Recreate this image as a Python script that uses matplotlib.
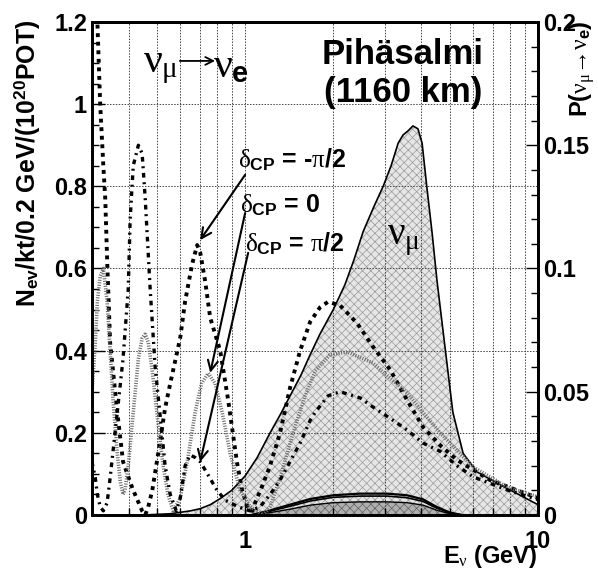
import matplotlib
matplotlib.use('Agg')
import matplotlib.pyplot as plt
from matplotlib.ticker import FixedLocator, NullFormatter, MultipleLocator, FormatStrFormatter

plt.rcParams['font.family'] = ['Liberation Sans', 'DejaVu Sans']
plt.rcParams['font.weight'] = 'bold'
plt.rcParams['mathtext.fontset'] = 'custom'
plt.rcParams['mathtext.rm'] = 'Liberation Sans:bold'
plt.rcParams['mathtext.bf'] = 'Liberation Sans:bold'
plt.rcParams['mathtext.sf'] = 'Liberation Sans:bold'
plt.rcParams['mathtext.it'] = 'Liberation Serif:weight=normal'
plt.rcParams['mathtext.fallback'] = 'stix'
plt.rcParams['hatch.linewidth'] = 0.5

# nu_mu flux (arbitrary units on left scale)
E_flux = [0.45, 0.555, 0.65, 0.70, 0.76, 0.822, 0.9, 1.0, 1.1, 1.217, 1.32, 1.424, 1.55,
          1.667, 1.8, 2.0, 2.19, 2.35, 2.53, 2.75, 2.96, 3.15, 3.33, 3.46, 3.6, 3.74,
          3.89, 4.02, 4.17, 4.35, 4.52, 4.81, 5.12, 5.55, 6.19, 7.6, 10.0]
flux = [0.0, 0.003, 0.01, 0.015, 0.025, 0.04, 0.06, 0.095, 0.14, 0.2, 0.245, 0.29, 0.34,
        0.39, 0.44, 0.50, 0.56, 0.62, 0.69, 0.75, 0.80, 0.85, 0.905, 0.925, 0.935, 0.947,
        0.94, 0.905, 0.80, 0.686, 0.57, 0.41, 0.25, 0.15, 0.105, 0.07, 0.025]

# nu_e appearance probability curves, drawn on left scale (x6)
E_m = [0.310, 0.313, 0.320, 0.328, 0.333, 0.338, 0.346, 0.366, 0.383, 0.405, 0.415, 0.445,
       0.456, 0.467, 0.482, 0.505, 0.533, 0.555, 0.600, 0.624, 0.659, 0.686, 0.702, 0.730,
       0.760, 0.822, 0.875, 0.939, 0.977, 1.024, 1.06, 1.082, 1.143, 1.217, 1.316, 1.424,
       1.541, 1.667, 1.80, 1.92, 2.11, 2.41, 2.73, 3.13, 3.57, 4.05, 4.63, 5.29, 6.86, 10.0]
p_minus = [1.30, 1.20, 1.00, 0.85, 0.77, 0.62, 0.42, 0.25, 0.13, 0.08, 0.06, 0.01,
           0.0, 0.02, 0.06, 0.15, 0.26, 0.32, 0.43, 0.52, 0.61, 0.657, 0.64, 0.57,
           0.48, 0.40, 0.28, 0.126, 0.06, 0.015, 0.01, 0.03, 0.07, 0.12, 0.20, 0.31,
           0.40, 0.47, 0.505, 0.519, 0.51, 0.467, 0.41, 0.353, 0.28, 0.214, 0.17, 0.134, 0.085, 0.041]

E_0 = [0.300, 0.308, 0.313, 0.320, 0.328, 0.338, 0.346, 0.354, 0.366, 0.375, 0.383, 0.389,
       0.399, 0.415, 0.432, 0.445, 0.456, 0.467, 0.482, 0.505, 0.525, 0.545, 0.568, 0.60,
       0.638, 0.675, 0.71, 0.748, 0.79, 0.835, 0.889, 0.961, 1.04, 1.152, 1.217, 1.316,
       1.458, 1.602, 1.734, 1.95, 2.23, 2.73, 3.57, 4.63, 6.0, 7.84, 10.0]
p_zero = [0.30, 0.42, 0.52, 0.58, 0.60, 0.52, 0.40, 0.28, 0.15, 0.08, 0.05, 0.06,
          0.12, 0.25, 0.38, 0.43, 0.44, 0.42, 0.35, 0.22, 0.12, 0.05, 0.01, 0.04,
          0.14, 0.25, 0.32, 0.345, 0.32, 0.25, 0.15, 0.06, 0.02, 0.0, 0.02, 0.09,
          0.20, 0.29, 0.35, 0.39, 0.397, 0.37, 0.297, 0.20, 0.117, 0.068, 0.044]

E_p = [0.300, 0.308, 0.313, 0.320, 0.328, 0.338, 0.346, 0.366, 0.383, 0.399, 0.405, 0.415,
       0.432, 0.445, 0.456, 0.474, 0.493, 0.513, 0.533, 0.555, 0.582, 0.600, 0.624, 0.649,
       0.675, 0.702, 0.748, 0.802, 0.855, 0.946, 1.04, 1.125, 1.217, 1.316, 1.424, 1.541,
       1.667, 1.734, 1.92, 2.11, 2.47, 2.73, 3.13, 3.57, 4.05, 4.63, 5.29, 6.0, 7.84, 10.0]
p_plus = [0.13, 0.09, 0.05, 0.02, 0.01, 0.03, 0.09, 0.25, 0.38, 0.55, 0.72, 0.85,
          0.90, 0.88, 0.77, 0.55, 0.36, 0.24, 0.12, 0.05, 0.01, 0.04, 0.12, 0.146,
          0.14, 0.13, 0.097, 0.06, 0.036, 0.02, 0.01, 0.02, 0.05, 0.085, 0.13, 0.175,
          0.23, 0.25, 0.29, 0.30, 0.285, 0.263, 0.235, 0.207, 0.175, 0.155, 0.12, 0.093, 0.061, 0.037]

# nu_e event spectra
E_sig = [1.05, 1.2, 1.42, 1.67, 2.0, 2.47, 3.05, 3.57, 4.05, 4.5, 5.0, 5.5]
sig_top = [0.0, 0.010, 0.025, 0.039, 0.048, 0.052, 0.052, 0.048, 0.038, 0.02, 0.006, 0.0]
sig_mid = [0.0, 0.008, 0.021, 0.034, 0.043, 0.046, 0.046, 0.042, 0.033, 0.017, 0.005, 0.0]
sig_low = [0.0, 0.005, 0.014, 0.024, 0.030, 0.032, 0.032, 0.030, 0.024, 0.012, 0.003, 0.0]

fig = plt.figure(figsize=(5.98, 5.71), dpi=100)
ax = fig.add_axes([0.1538, 0.0981, 0.7459, 0.8634])
ax.set_xscale('log')
ax.set_xlim(0.3, 10)
ax.set_ylim(0, 1.2)

ax.fill_between(E_flux, flux, facecolor='#e6e6e6', edgecolor='#9a9a9a', hatch='xxxx',
                linewidth=0, zorder=1)
ax.plot(E_flux, flux, color='black', lw=1.2, zorder=4)

ax.fill_between(E_sig, sig_low, facecolor='#b0b0b0', edgecolor='#606060', hatch='xxxx',
                linewidth=0, zorder=1.5)
ax.plot(E_sig, sig_low, color='black', lw=1.0, zorder=4)
ax.plot(E_sig, sig_mid, color='black', lw=1.2, zorder=4)
ax.plot(E_sig, sig_top, color='black', lw=1.6, zorder=4)

ax.plot(E_m, p_minus, color='black', lw=2.8, dashes=(1, 1.2), dash_capstyle='butt', zorder=5)
ax.plot(E_0, p_zero, color='#6e6e6e', lw=2.6, dashes=(0.3, 0.4), dash_capstyle='butt', zorder=5)
ax.plot(E_p, p_plus, color='black', lw=2.4, dashes=(1.4, 1.4, 0.6, 1.4), dash_capstyle='butt', zorder=5)

ax.set_axisbelow(False)
ax.grid(True, which='both', axis='x', color='#444444', linestyle=(0, (1.5, 1.5)), linewidth=0.7, zorder=2)
ax.grid(True, which='major', axis='y', color='#444444', linestyle=(0, (1.5, 1.5)), linewidth=0.7, zorder=2)

ax.xaxis.set_major_locator(FixedLocator([1, 10]))
ax.xaxis.set_major_formatter(FormatStrFormatter('%g'))
ax.xaxis.set_minor_locator(FixedLocator([0.4, 0.5, 0.6, 0.7, 0.8, 0.9, 2, 3, 4, 5, 6, 7, 8, 9]))
ax.xaxis.set_minor_formatter(NullFormatter())
ax.yaxis.set_major_locator(MultipleLocator(0.2))
ax.yaxis.set_minor_locator(MultipleLocator(0.05))
ax.yaxis.set_major_formatter(FormatStrFormatter('%g'))
ax.tick_params(which='both', direction='in', labelsize=17, right=False, top=False)
ax.tick_params(which='major', length=9, width=1)
ax.tick_params(which='minor', length=5, width=1)
ax.tick_params(axis='x', pad=11)
for s in ax.spines.values():
    s.set_linewidth(2)

ax2 = ax.twinx()
ax2.set_ylim(0, 0.2)
ax2.yaxis.set_major_locator(MultipleLocator(0.05))
ax2.yaxis.set_minor_locator(MultipleLocator(0.01))
ax2.yaxis.set_major_formatter(FormatStrFormatter('%g'))
ax2.tick_params(which='both', direction='in', labelsize=17)
ax2.tick_params(which='major', length=9, width=1)
ax2.tick_params(which='minor', length=5, width=1)
for s in ax2.spines.values():
    s.set_linewidth(2)

fig.text(27 / 598, 1 - 20 / 571, r'N$_{\mathrm{ev}}$/kt/0.2 GeV/(10$^{\mathrm{20}}$POT)',
         fontsize=17.8, rotation=90, ha='center', va='top')
fig.text(582 / 598, 1 - 20 / 571, r'P($\nu_{\mu}$→$\nu_{\mathrm{e}}$)',
         fontsize=17, rotation=90, ha='center', va='top')
fig.text(537 / 598, 1 - 557 / 571, r'E$_{\nu}$ (GeV)', fontsize=17, ha='right', va='center')

# nu_mu -> nu_e label, long thin arrow drawn separately
ax.text(0.114, 0.911, r'$\nu_{\mu}$', fontsize=30, ha='left', va='center', transform=ax.transAxes)
ax.annotate('', xy=(0.276, 0.921), xytext=(0.197, 0.921), xycoords='axes fraction',
            arrowprops=dict(arrowstyle='->', color='black', lw=1.3, mutation_scale=14,
                            shrinkA=0, shrinkB=0))
ax.text(0.272, 0.911, r'$\nu_{\mathrm{e}}$', fontsize=30, ha='left', va='center', transform=ax.transAxes)

ax.text(3.46, 1.075, 'Pihäsalmi\n(1160 km)', fontsize=25, ha='center', va='center', linespacing=1.2)
ax.text(3.05, 0.67, r'$\nu_{\mu}$', fontsize=28, ha='left', va='center', zorder=6)

ax.text(0.946, 0.865, r'$\delta_{\mathrm{CP}}$ = -$\pi$/2', fontsize=18, ha='left', va='center')
ax.text(0.961, 0.755, r'$\delta_{\mathrm{CP}}$ = 0', fontsize=18, ha='left', va='center')
ax.text(1.0, 0.66, r'$\delta_{\mathrm{CP}}$ = $\pi$/2', fontsize=18, ha='left', va='center')

arrow = dict(arrowstyle='->', color='black', lw=1.5, mutation_scale=18, shrinkA=0, shrinkB=0)
ax.annotate('', xy=(0.702, 0.669), xytext=(1.0, 0.828), arrowprops=arrow, zorder=6)
ax.annotate('', xy=(0.760, 0.346), xytext=(1.0, 0.735), arrowprops=arrow, zorder=6)
ax.annotate('', xy=(0.702, 0.129), xytext=(1.024, 0.638), arrowprops=arrow, zorder=6)

fig.savefig('out.png', dpi=100)
